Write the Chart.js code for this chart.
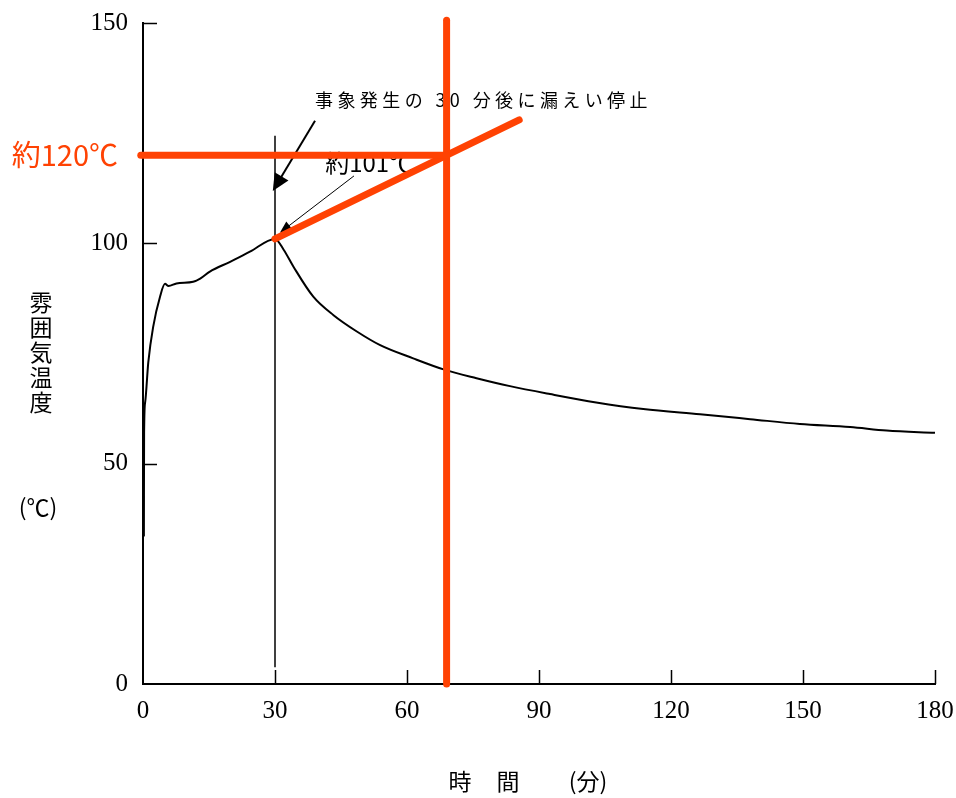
<!DOCTYPE html>
<html lang="ja">
<head>
<meta charset="utf-8">
<script src="https://cdn.jsdelivr.net/npm/chart.js@4.4.1/dist/chart.umd.min.js"></script>
<style>
  html, body { margin: 0; padding: 0; background: #fff; }
  #wrap { width: 956px; height: 798px; }
</style>
</head>
<body>
<div id="wrap"><canvas id="tempChart" width="956" height="798"></canvas></div>
<script>
// 経過時間 (分) と雰囲気温度 (℃)
const minutes = [0.2, 0.25, 0.5, 1.2, 2.3, 3.9, 5.0, 5.8, 7.6, 11.4, 13.0, 15.2, 19.8, 24.3, 30,
  32, 34.2, 38.7, 43.3, 48.6, 53.9, 61.4, 68.3, 75.8, 83.4,
  92.5, 103, 113.7, 126.6, 138, 149.3, 160.7, 169, 180];
const temps = [33.5, 57, 64, 73, 81, 88, 90.8, 90.3, 90.9, 91.3, 92.0, 93.6, 95.8, 98.1, 101,
  98.5, 94.7, 87.9, 83.7, 80.0, 76.9, 73.9, 71.4, 69.4, 67.6,
  65.8, 63.9, 62.4, 61.2, 60.1, 59.0, 58.3, 57.5, 57.0];

const xTicks = [0, 30, 60, 90, 120, 150, 180];
const yTicks = [0, 50, 100, 150];

// 漏えい停止時刻の縦線 (30分)
const stopMinute = 30;
const stopLineTemps = [3.8, 124.4];

// 赤線: 約101℃からの上昇想定と約120℃
const peakTemp = 101;
const estTemp = 120;
const estMinute = 69;
const riseEnd = [85.5, 128];
const estLineMinutes = [-0.5, estMinute];
const estVertTemps = [0, 150.6];

// 注記の矢印 [始点, 先端] (分, ℃)
const arrowStop = [[39.1, 127.8], [29.5, 111.9]];
const arrowPeak = [[47.95, 115.3], [31.1, 102.4]];

const RED = '#ff4203';
const pts = (xs, ys) => xs.map((v, i) => ({ x: v, y: ys[i] }));

function drawArrow(ctx, x0, y0, x1, y1, w, len, half) {
  const ang = Math.atan2(y1 - y0, x1 - x0);
  ctx.lineWidth = w;
  ctx.beginPath();
  ctx.moveTo(x0, y0);
  ctx.lineTo(x1 - Math.cos(ang) * len * 0.6, y1 - Math.sin(ang) * len * 0.6);
  ctx.stroke();
  ctx.beginPath();
  ctx.moveTo(x1, y1);
  ctx.lineTo(x1 - Math.cos(ang) * len - Math.sin(ang) * half, y1 - Math.sin(ang) * len + Math.cos(ang) * half);
  ctx.lineTo(x1 - Math.cos(ang) * len + Math.sin(ang) * half, y1 - Math.sin(ang) * len - Math.cos(ang) * half);
  ctx.closePath();
  ctx.fill();
}

const decor = {
  id: 'decor',
  beforeDatasetsDraw(chart) {
    const { ctx, chartArea: a, scales: { x, y } } = chart;
    ctx.save();
    ctx.strokeStyle = '#000';
    ctx.fillStyle = '#000';

    // 内向きの目盛り
    ctx.lineWidth = 1.5;
    ctx.beginPath();
    xTicks.forEach(v => {
      if (v === 0) return;
      const px = Math.round(x.getPixelForValue(v)) + 0.5;
      ctx.moveTo(px, a.bottom);
      ctx.lineTo(px, a.bottom - 14);
    });
    yTicks.forEach(v => {
      if (v === 0) return;
      const py = Math.round(y.getPixelForValue(v)) + 0.5;
      ctx.moveTo(a.left, py);
      ctx.lineTo(a.left + 14, py);
    });
    ctx.stroke();

    // 軸タイトル
    ctx.font = '23px "Noto Sans CJK JP"';
    ctx.textAlign = 'center';
    ctx.textBaseline = 'middle';
    ['雰', '囲', '気', '温', '度'].forEach((c, i) => ctx.fillText(c, 41, 302 + i * 25));
    ctx.fillText('(℃)', 38, 507);
    ctx.fillText('時', 460, 781);
    ctx.fillText('間', 508, 781);
    ctx.fillText('(分)', 588, 781);

    // 注記
    ctx.font = '18px "Noto Sans CJK JP"';
    ctx.textAlign = 'left';
    ctx.letterSpacing = '4.4px';
    ctx.fillText('事象発生の 30 分後に漏えい停止', x.getPixelForValue(39.1), 100);
    ctx.letterSpacing = '0px';
    ctx.font = '24px "Noto Sans CJK JP"';
    ctx.fillText('約101℃', x.getPixelForValue(41.4), 163);

    ctx.lineCap = 'butt';
    drawArrow(ctx,
      x.getPixelForValue(arrowStop[0][0]), y.getPixelForValue(arrowStop[0][1]),
      x.getPixelForValue(arrowStop[1][0]), y.getPixelForValue(arrowStop[1][1]), 2, 17, 8);
    drawArrow(ctx,
      x.getPixelForValue(arrowPeak[0][0]), y.getPixelForValue(arrowPeak[0][1]),
      x.getPixelForValue(arrowPeak[1][0]), y.getPixelForValue(arrowPeak[1][1]), 1, 12, 5);

    // 約120℃ ラベル
    ctx.fillStyle = RED;
    ctx.font = '29px "Noto Sans CJK JP"';
    ctx.textAlign = 'right';
    ctx.fillText('約120℃', a.left - 25, y.getPixelForValue(estTemp));
    ctx.restore();
  }
};

const redLine = {
  type: 'scatter', showLine: true, borderColor: RED, borderWidth: 7,
  borderCapStyle: 'round', pointRadius: 0, clip: false, order: 0
};

const tickFont = { family: '"Liberation Serif"', size: 25 };

new Chart(document.getElementById('tempChart'), {
  type: 'scatter',
  data: {
    datasets: [
      Object.assign({ data: pts(estLineMinutes, [estTemp, estTemp]) }, redLine),
      Object.assign({ data: pts([estMinute, estMinute], estVertTemps) }, redLine),
      Object.assign({ data: pts([stopMinute, riseEnd[0]], [peakTemp, riseEnd[1]]) }, redLine),
      {
        data: pts(minutes, temps),
        showLine: true, borderColor: '#000', borderWidth: 2, pointRadius: 0,
        cubicInterpolationMode: 'monotone', clip: false, order: 2
      },
      {
        data: pts([stopMinute, stopMinute], stopLineTemps),
        showLine: true, borderColor: '#000', borderWidth: 1.5, pointRadius: 0, order: 3
      }
    ]
  },
  options: {
    responsive: false,
    animation: false,
    devicePixelRatio: 1,
    layout: { padding: { top: 23, right: 21, left: 0, bottom: 0 } },
    plugins: { legend: { display: false }, tooltip: { enabled: false } },
    scales: {
      x: {
        type: 'linear', min: 0, max: 180,
        afterBuildTicks: s => { s.ticks = xTicks.map(v => ({ value: v })); },
        afterFit: s => { s.height = 114; s.paddingLeft = 0; s.paddingRight = 0; },
        ticks: { color: '#000', padding: 12, maxRotation: 0, font: tickFont },
        grid: { drawOnChartArea: false, drawTicks: false },
        border: { color: '#000', width: 2 }
      },
      y: {
        min: 0, max: 150,
        afterBuildTicks: s => { s.ticks = yTicks.map(v => ({ value: v })); },
        afterFit: s => { s.width = 143; s.paddingTop = 0; s.paddingBottom = 0; },
        ticks: { color: '#000', padding: 15, font: tickFont },
        grid: { drawOnChartArea: false, drawTicks: false },
        border: { color: '#000', width: 2 }
      }
    }
  },
  plugins: [decor]
});
</script>
</body>
</html>
